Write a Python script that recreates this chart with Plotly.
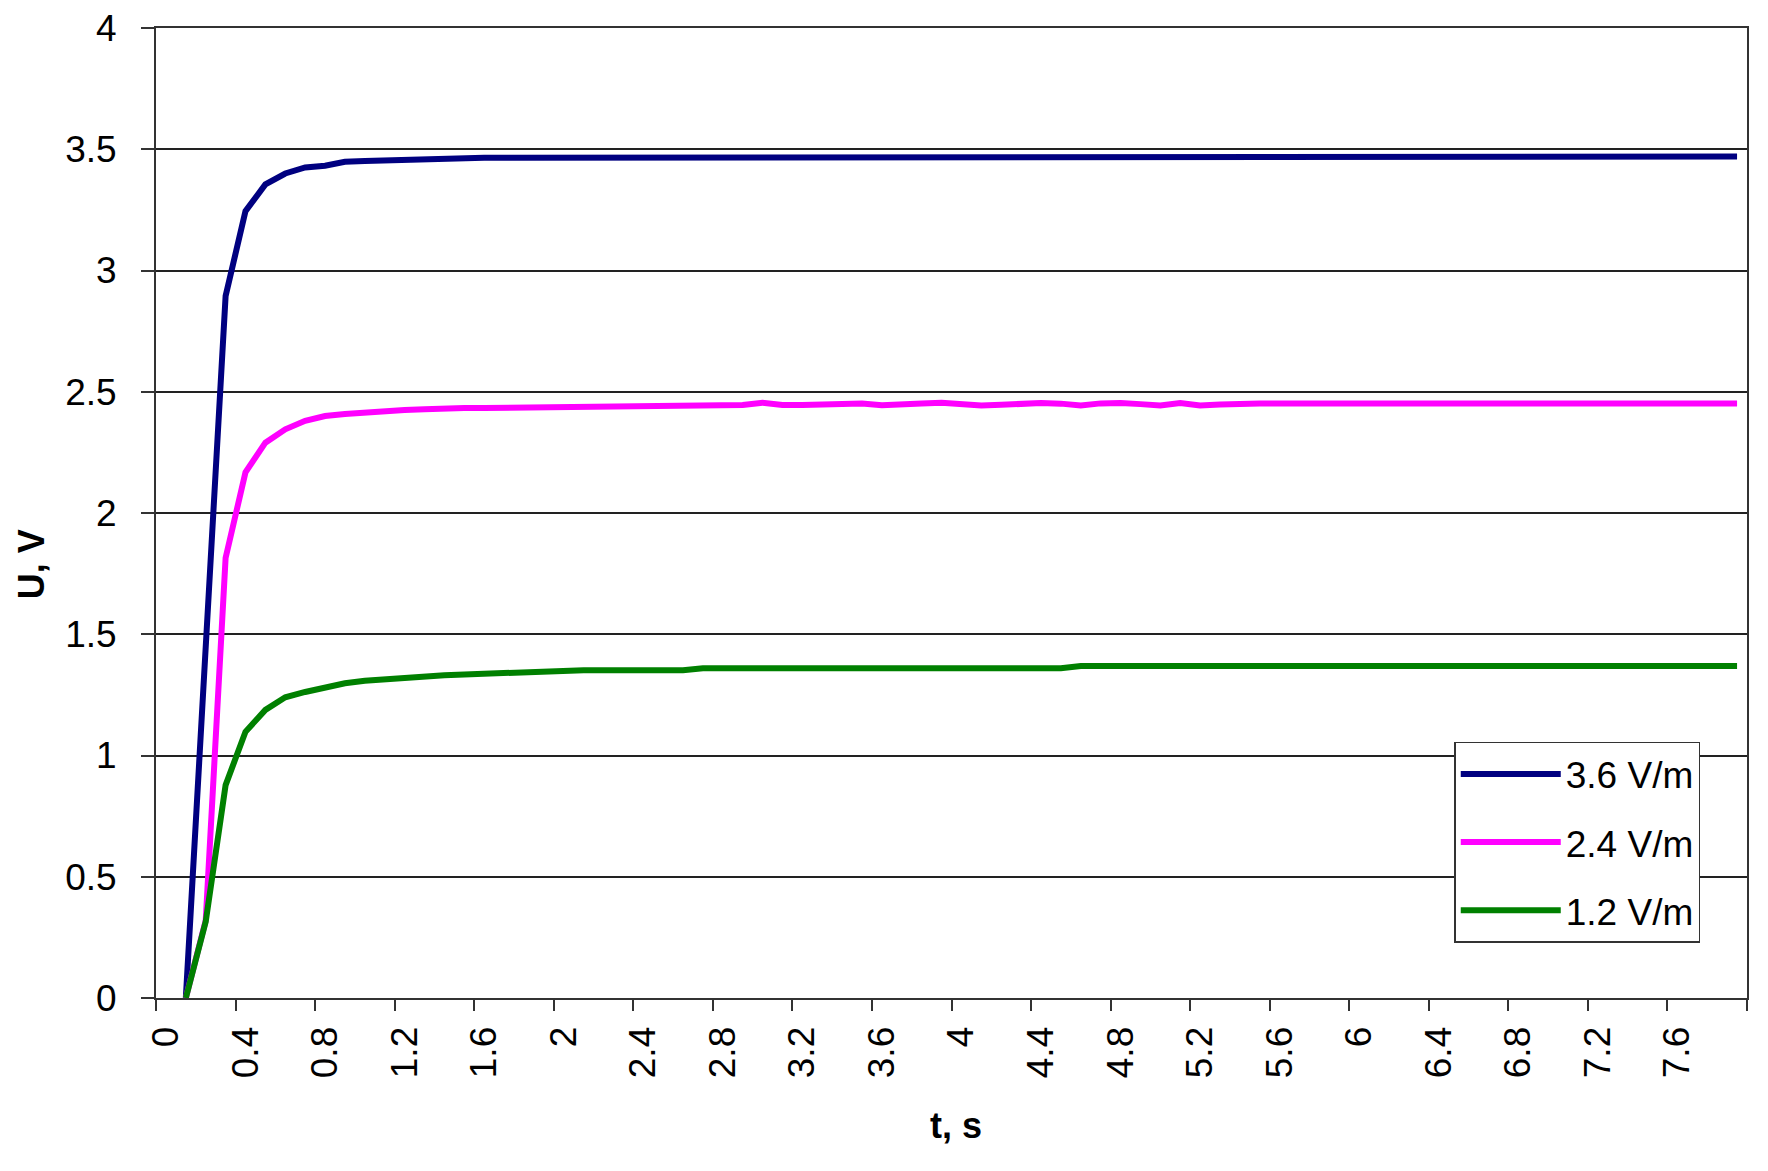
import plotly.graph_objects as go

# time categories (s), 0.1 s steps
t_values = [round(k * 0.1, 1) for k in range(80)]

u_36 = [None, 0, 1.45, 2.895, 3.245, 3.355, 3.40, 3.425, 3.432, 3.448,
        3.452, 3.455, 3.455, 3.457, 3.462, 3.463, 3.465, 3.465, 3.465, 3.465,
        3.465, 3.465, 3.465, 3.465, 3.465, 3.465, 3.465, 3.47, 3.47, 3.47,
        3.47, 3.47, 3.47, 3.47, 3.47, 3.47, 3.47, 3.47, 3.47, 3.47,
        3.47, 3.47, 3.47, 3.47, 3.47, 3.47, 3.47, 3.47, 3.47, 3.47,
        3.47, 3.47, 3.47, 3.47, 3.47, 3.47, 3.47, 3.47, 3.47, 3.47,
        3.47, 3.47, 3.47, 3.47, 3.47, 3.47, 3.47, 3.47, 3.47, 3.47,
        3.47, 3.47, 3.47, 3.47, 3.47, 3.47, 3.47, 3.47, 3.47, 3.47]

u_24 = [None, 0, 0.32, 1.815, 2.168, 2.29, 2.345, 2.38, 2.40, 2.408,
        2.415, 2.42, 2.425, 2.428, 2.432, 2.433, 2.433, 2.434, 2.434, 2.435,
        2.442, 2.443, 2.443, 2.444, 2.444, 2.444, 2.444, 2.445, 2.445, 2.445,
        2.455, 2.445, 2.445, 2.448, 2.455, 2.452, 2.444, 2.445, 2.452, 2.455,
        2.448, 2.443, 2.446, 2.452, 2.454, 2.451, 2.443, 2.452, 2.454, 2.449,
        2.443, 2.454, 2.443, 2.447, 2.451, 2.452, 2.452, 2.452, 2.452, 2.452,
        2.452, 2.452, 2.452, 2.452, 2.452, 2.452, 2.452, 2.452, 2.452, 2.452,
        2.452, 2.452, 2.452, 2.452, 2.452, 2.452, 2.452, 2.452, 2.452, 2.452]

u_12 = [None, 0, 0.315, 0.878, 1.098, 1.188, 1.24, 1.262, 1.283, 1.298,
        1.308, 1.315, 1.322, 1.328, 1.331, 1.334, 1.338, 1.342, 1.345, 1.347,
        1.35, 1.352, 1.352, 1.352, 1.352, 1.352, 1.352, 1.36, 1.36, 1.36,
        1.36, 1.36, 1.36, 1.36, 1.36, 1.36, 1.36, 1.36, 1.36, 1.36,
        1.36, 1.36, 1.36, 1.36, 1.36, 1.36, 1.369, 1.369, 1.369, 1.369,
        1.369, 1.369, 1.369, 1.369, 1.369, 1.369, 1.369, 1.369, 1.369, 1.369,
        1.369, 1.369, 1.369, 1.369, 1.369, 1.369, 1.369, 1.369, 1.369, 1.369,
        1.369, 1.369, 1.369, 1.369, 1.369, 1.369, 1.369, 1.369, 1.369, 1.369]

series_names = ["3.6 V/m", "2.4 V/m", "1.2 V/m"]
series_colors = ["#000080", "#FF00FF", "#008000"]

x_tick_vals = [round(k * 0.4, 1) for k in range(20)]
x_tick_text = ["0", "0.4", "0.8", "1.2", "1.6", "2", "2.4", "2.8", "3.2", "3.6",
               "4", "4.4", "4.8", "5.2", "5.6", "6", "6.4", "6.8", "7.2", "7.6"]
x_boundaries = [round(-0.05 + k * 0.4, 2) for k in range(21)]
y_tick_vals = [0, 0.5, 1, 1.5, 2, 2.5, 3, 3.5, 4]
y_tick_text = ["0", "0.5", "1", "1.5", "2", "2.5", "3", "3.5", "4"]

FONT = "Liberation Sans, Arial, sans-serif"

fig = go.Figure()
for i, (name, ys, col) in enumerate(zip(series_names, [u_36, u_24, u_12], series_colors)):
    fig.add_trace(go.Scatter(
        x=t_values, y=ys, mode="lines", name=name,
        line=dict(color=col, width=6),
        legendgroup=f"g{i}", connectgaps=False,
    ))

fig.update_layout(
    width=1768, height=1171,
    margin=dict(l=148, r=29, t=20, b=181, autoexpand=False),
    paper_bgcolor="white", plot_bgcolor="white",
    font=dict(family=FONT, size=37, color="black"),
    showlegend=True,
    legend=dict(
        x=0.816, y=0.264, xanchor="left", yanchor="top",
        bgcolor="white", bordercolor="#333333", borderwidth=1.5,
        font=dict(size=37, family=FONT, color="black"),
        tracegroupgap=17, itemwidth=100,
    ),
    xaxis=dict(
        range=[-0.05, 7.95], tickmode="array", tickvals=x_tick_vals, ticktext=x_tick_text,
        tickangle=-90, ticks="", ticklabelstandoff=12, ticklabeloverflow="allow",
        automargin=False,
        showgrid=False, zeroline=False,
        showline=True, linecolor="#333333", linewidth=2, mirror=True,
        tickfont=dict(size=37, family=FONT, color="black"),
        minor=dict(tickmode="array", tickvals=x_boundaries, ticks="outside",
                   ticklen=11, tickcolor="#333333", tickwidth=2, showgrid=False),
    ),
    yaxis=dict(
        range=[0, 4], tickmode="array", tickvals=y_tick_vals, ticktext=y_tick_text,
        ticks="outside", ticklen=13, tickcolor="#333333", tickwidth=2,
        ticklabelstandoff=17, ticklabeloverflow="allow",
        automargin=False,
        showgrid=True, gridcolor="#222222", gridwidth=1.5, zeroline=False,
        showline=True, linecolor="#333333", linewidth=2, mirror=True,
        tickfont=dict(size=37, family=FONT, color="black"),
    ),
    annotations=[
        dict(text="<b>t, s</b>", xref="paper", yref="paper", x=0.503, y=-0.131,
             xanchor="center", yanchor="middle", showarrow=False,
             font=dict(size=36, family=FONT, color="black")),
        dict(text="<b>U, V</b>", xref="paper", yref="paper", x=-0.078, y=0.447,
             xanchor="center", yanchor="middle", showarrow=False, textangle=-90,
             font=dict(size=36, family=FONT, color="black")),
    ],
)

fig.write_html("out.html")
